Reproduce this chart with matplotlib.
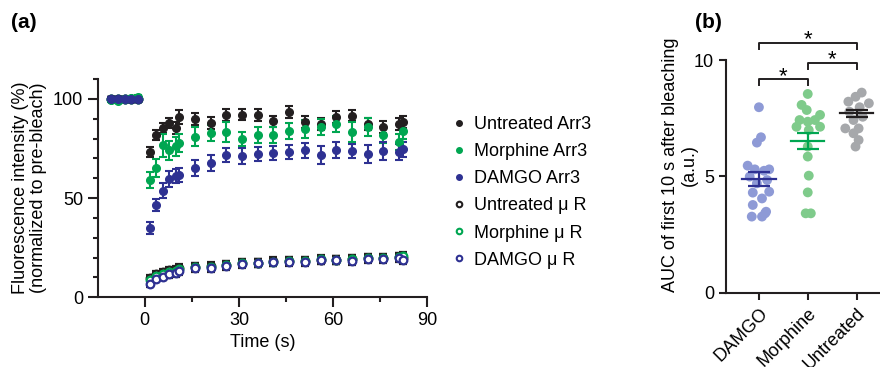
import numpy as np
import matplotlib
matplotlib.use('Agg')
from matplotlib import pyplot as plt
from matplotlib.lines import Line2D

plt.rcParams['font.family'] = ['Liberation Sans', 'DejaVu Sans']
plt.rcParams['font.size'] = 13

# ---- panel (a) data ----
t_pre = [-10.6, -8.5, -6.4, -4.3, -2.2]
t_post = [1.8, 3.7, 5.8, 7.7, 9.8, 11.0, 16, 21, 26, 31, 36, 41, 46, 51, 56, 61, 66, 71, 76, 81, 82.3]
time = t_pre + t_post

untr_arr3 = [100, 100, 100, 100, 100,
             73.0, 81.9, 85.4, 87.7, 85.4, 90.7, 89.9, 87.9, 91.8, 92.1, 91.9,
             88.6, 93.3, 88.2, 87.4, 90.7, 91.6, 87.4, 85.7, 87.4, 88.5]
untr_arr3_err = [1, 1, 1, 1, 1,
                 2.5, 2.5, 2.5, 2.5, 3, 3.5, 3, 3, 3, 3, 3, 3, 3, 3, 3, 3, 3, 3, 3, 3, 3]
morph_arr3 = [99.5, 99, 100, 100.5, 101,
              58.9, 65.3, 76.5, 74.0, 76.0, 77.7, 81.0, 82.9, 83.2, 79.9, 82.0,
              81.9, 83.9, 84.7, 85.7, 87.4, 83.5, 85.7, 82.0, 78.2, 84.0]
morph_arr3_err = [1, 1, 1, 1, 1,
                  4, 4.5, 6, 5, 5, 4.5, 5, 4, 5, 3.5, 4, 4, 4, 4.5, 4, 4, 5, 4.5, 4, 4, 4]
damgo_arr3 = [100, 100, 100, 100, 100,
              34.9, 46.3, 53.8, 59.4, 61.1, 61.4, 65.3, 67.8, 71.8, 71.0, 72.3,
              72.6, 73.0, 74.0, 71.5, 74.3, 73.5, 72.3, 73.6, 73.1, 74.5]
damgo_arr3_err = [1, 1, 1, 1, 1,
                  3, 3, 4, 4, 3.5, 3.5, 4, 4, 3.5, 4, 3.5, 3.5, 3.5, 4, 4.5, 4, 3.5, 4.5, 4.5, 4, 4]
untr_mor = [100, 100, 100, 100, 100,
            9.5, 11.5, 12.5, 13.5, 14, 14.8, 15.5, 15.8, 16.5, 17.5, 17.5,
            18.5, 18.5, 18.2, 19, 19, 19.5, 19.8, 19.8, 20.5, 20]
morph_mor = [100, 100, 100, 100, 100,
             8.5, 10.5, 11.5, 12.5, 13.2, 14.0, 15.2, 15.5, 16.2, 17.3, 17.5,
             18.0, 18.3, 18.3, 19.2, 19.0, 19.5, 19.8, 19.8, 20.3, 21]
damgo_mor = [100, 100, 100, 100, 100,
             6.9, 9.1, 10.2, 11.9, 12.4, 13.1, 14.8, 14.8, 15.8, 16.6, 17.3,
             17.8, 17.8, 17.8, 18.6, 18.6, 18.1, 19.5, 19.1, 19.8, 19.0]
mor_err = [1, 1, 1, 1, 1,
           1.5, 1.5, 1.5, 2, 2, 2, 2, 2, 2, 2, 2, 2, 2, 2, 2, 2, 2, 2, 2, 2, 2]

labels_a = ['Untreated Arr3', 'Morphine Arr3', 'DAMGO Arr3',
            'Untreated \u03bc R', 'Morphine \u03bc R', 'DAMGO \u03bc R']

# ---- panel (b) data ----
groups = ['DAMGO', 'Morphine', 'Untreated']
auc_damgo = [7.97, 6.68, 6.45, 5.46, 5.3, 5.3, 5.24, 4.99, 4.84, 4.7, 4.3, 4.34,
             4.05, 3.77, 3.48, 3.27, 3.27, 3.41]
auc_morph = [8.54, 8.07, 7.85, 7.64, 7.42, 7.35, 7.42, 7.13, 7.13, 6.99, 6.28, 5.85,
             5.03, 4.31, 3.41, 3.41]
auc_untr = [8.6, 8.42, 8.21, 8.14, 7.97, 7.78, 7.56, 7.42, 7.06, 7.06, 6.85, 6.56, 6.28]
auc_jitter = [[0.0, 0.1, -0.1, -0.55, -0.2, 0.5, 0.25, -0.45, 0.4, -0.1, -0.3, 0.5,
               0.15, -0.3, 0.35, -0.35, 0.15, 0.3],
              [0.0, -0.3, -0.05, 0.6, -0.4, 0.0, 0.35, -0.55, 0.6, 0.05, 0.0, 0.0,
               0.05, 0.0, -0.1, 0.15],
              [0.25, -0.05, -0.4, 0.6, 0.15, -0.35, 0.3, -0.15, -0.55, 0.1, -0.15,
               0.1, -0.05]]
auc_mean = [4.89, 6.53, 7.71]
auc_sem = [0.3, 0.35, 0.15]

black = '#231f20'
green = '#00a651'
blue = '#2e3192'
dot_cols = ['#8e9ad6', '#7fcb8b', '#a6a8ab']
line_cols = [blue, green, black]

fig = plt.figure(figsize=(8.8, 3.67), dpi=100)

# ---------------- panel (a) ----------------
ax = fig.add_axes([0.111, 0.19, 0.3746, 0.5947])
cols = [black, green, blue]
arr3 = [untr_arr3, morph_arr3, damgo_arr3]
arr3_err = [untr_arr3_err, morph_arr3_err, damgo_arr3_err]
mor = [untr_mor, morph_mor, damgo_mor]

for y, e, c in zip(mor, [mor_err] * 3, cols):
    ax.errorbar(time, y, yerr=e, fmt='o', color=c, ms=5.5, mfc='white', mec=c, mew=1.6,
                ecolor=black, elinewidth=1.3, capsize=3, capthick=1.3, zorder=3)
for y, e, c in zip(arr3, arr3_err, cols):
    ax.errorbar(time, y, yerr=e, fmt='o', color=c, ms=5.5, mec=c,
                elinewidth=1.5, capsize=3.2, capthick=1.5, zorder=4)

ax.set_xlim(-15, 90)
ax.set_ylim(0, 110)
ax.set_xticks([0, 30, 60, 90])
ax.set_xticks([15, 45, 75], minor=True)
ax.set_yticks([0, 50, 100])
ax.set_yticks(np.arange(10, 111, 10), minor=True)
ax.spines['top'].set_visible(False)
ax.spines['right'].set_visible(False)
for s in ['left', 'bottom']:
    ax.spines[s].set_linewidth(1.5)
    ax.spines[s].set_color(black)
ax.tick_params(which='major', length=7, width=1.5, color=black, labelsize=13)
ax.tick_params(which='minor', length=3.6, width=1.5, color=black)
ax.set_xlabel('Time (s)', fontsize=13)
ax.set_ylabel('Fluorescence intensity (%)\n(normalized to pre-bleach)', fontsize=13,
              linespacing=1.1)

handles = []
for c in cols:
    handles.append(Line2D([], [], marker='o', ls='none', color=c, ms=4))
for c in cols:
    handles.append(Line2D([], [], marker='o', ls='none', color=c, mfc='white', mec=c,
                          mew=1.5, ms=4))
fig.legend(handles, labels_a, loc='upper left', bbox_to_anchor=(0.493, 0.728),
           frameon=False, fontsize=13, handletextpad=0.3, labelspacing=0.56,
           handlelength=1.0)

# ---------------- panel (b) ----------------
bx = fig.add_axes([0.8247, 0.2025, 0.1753, 0.634])
for i, vals in enumerate([auc_damgo, auc_morph, auc_untr]):
    xs = [i + j * 0.42 for j in auc_jitter[i]]
    bx.scatter(xs, vals, s=50, color=dot_cols[i], edgecolors='none', zorder=2)
    bx.plot([i - 0.34, i + 0.34], [auc_mean[i]] * 2, color=line_cols[i], lw=1.6, zorder=3)
    bx.errorbar(i, auc_mean[i], yerr=auc_sem[i], fmt='none', ecolor=line_cols[i],
                elinewidth=1.6, capsize=8, capthick=1.6, zorder=3)

bx.set_xlim(-0.68, 2.48)
bx.set_ylim(0, 10)
bx.set_yticks([0, 5, 10])
bx.set_xticks(range(3))
bx.set_xticklabels(groups, rotation=45, ha='right', rotation_mode='anchor', fontsize=12)
bx.spines['top'].set_visible(False)
bx.spines['right'].set_visible(False)
for s in ['left', 'bottom']:
    bx.spines[s].set_linewidth(1.5)
    bx.spines[s].set_color(black)
bx.tick_params(length=5, width=1.5, color=black, labelsize=13)
bx.set_ylabel('AUC of first 10 s after bleaching\n(a.u.)', fontsize=13,
              linespacing=1.15)
bx.yaxis.set_label_coords(-0.178, 0.55)

# significance brackets
brackets = [(0, 1, 9.17, 8.93), (1, 2, 9.89, 9.6), (0, 2, 10.74, 10.46)]
for x0, x1, yt, yb in brackets:
    bx.plot([x0, x0, x1, x1], [yb, yt, yt, yb], color=black, lw=1.4, clip_on=False)
    bx.text((x0 + x1) / 2, yt - 0.12, '*', ha='center', va='baseline', fontsize=16,
            clip_on=False)

fig.text(0.012, 0.965, '(a)', fontsize=15, fontweight='bold', va='top')
fig.text(0.79, 0.965, '(b)', fontsize=15, fontweight='bold', va='top')

fig.savefig('out.png', dpi=100)
